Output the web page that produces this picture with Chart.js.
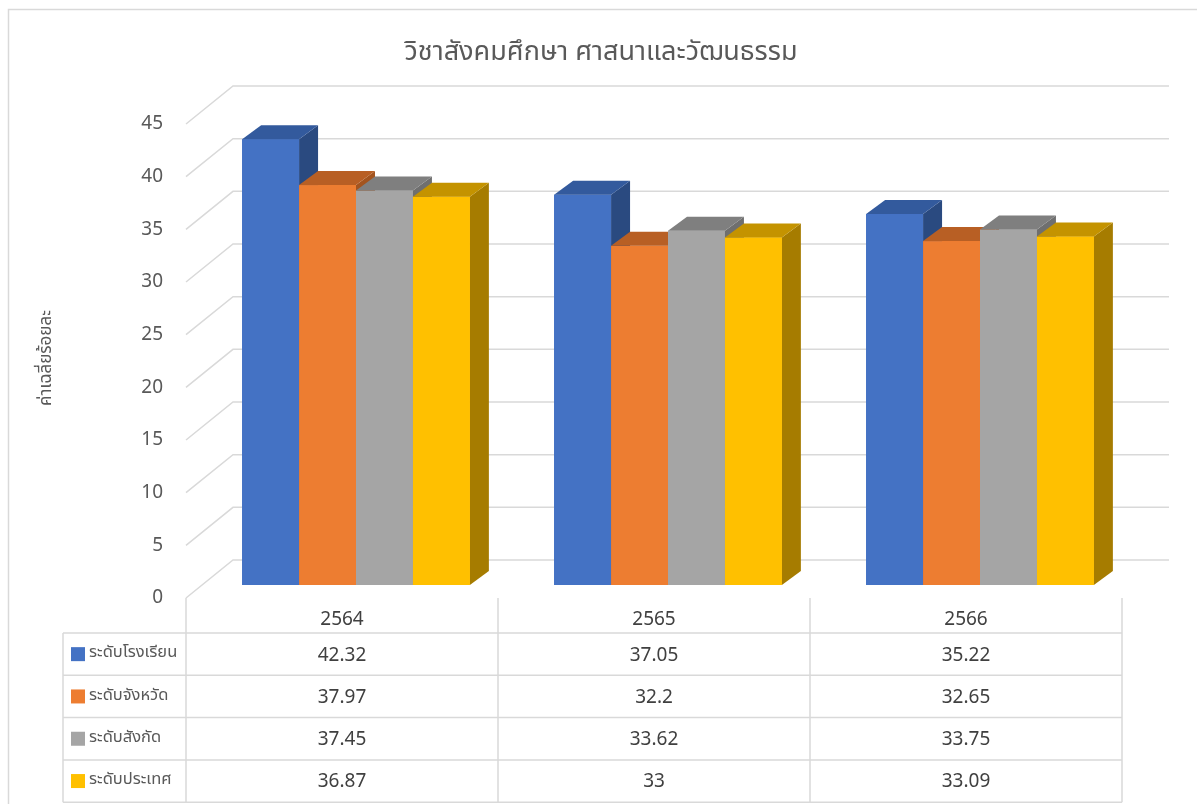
<!DOCTYPE html>
<html>
<head>
<meta charset="utf-8">
<script src="https://cdn.jsdelivr.net/npm/chart.js@4.4.1/dist/chart.umd.min.js"></script>
<style>
  html, body { margin: 0; background: #fff; }
  canvas { display: block; }
</style>
</head>
<body>
<canvas id="chart" width="1197" height="804"></canvas>
<script>
const years = ['2564', '2565', '2566'];
const seriesNames = ['ระดับโรงเรียน', 'ระดับจังหวัด', 'ระดับสังกัด', 'ระดับประเทศ'];
const schoolScores = [42.32, 37.05, 35.22];
const provinceScores = [37.97, 32.2, 32.65];
const affiliationScores = [37.45, 33.62, 33.75];
const nationScores = [36.87, 33, 33.09];
const yTicks = [0, 5, 10, 15, 20, 25, 30, 35, 40, 45];

const titleText = 'วิชาสังคมศึกษา ศาสนาและวัฒนธรรม';
const yTitleText = 'ค่าเฉลี่ยร้อยละ';

const faceColors = ['#4472C4', '#ED7D31', '#A5A5A5', '#FFC000'];
const topColors = ['#335A9D', '#B85F24', '#7F7F7F', '#C49300'];
const sideColors = ['#2A4A80', '#A3541F', '#6F6F6F', '#A67C00'];

const THAI = "'Noto Sans Thai', 'Leelawadee UI', Tahoma, 'Noto Sans', sans-serif";
const NUM = "'Noto Sans', 'Open Sans', sans-serif";

// oblique offsets relative to the plane the bar fronts sit on
const DEPTH = { dx: 19, dy: -14 };
const BACK = { dx: 33, dy: -25 };
const FRONT = { dx: -14, dy: 13 };
const GRID = '#D9D9D9';

const allSeries = [schoolScores, provinceScores, affiliationScores, nationScores];

const excel3d = {
  id: 'excel3d',
  beforeDraw(chart) {
    const ctx = chart.ctx;
    ctx.save();
    ctx.strokeStyle = GRID;
    ctx.lineWidth = 1.5;
    ctx.strokeRect(8.5, 9.5, 1300, 1000);

    ctx.fillStyle = '#595959';
    ctx.font = '27px ' + THAI;
    ctx.textAlign = 'center';
    ctx.textBaseline = 'middle';
    ctx.fillText(titleText, 601, 55);

    ctx.translate(48, 358);
    ctx.rotate(-Math.PI / 2);
    ctx.font = '17px ' + THAI;
    ctx.fillText(yTitleText, 0, 0);
    ctx.restore();
  },
  beforeDatasetsDraw(chart) {
    const ctx = chart.ctx;
    const xs = chart.scales.x;
    const ys = chart.scales.y;
    ctx.save();
    ctx.strokeStyle = GRID;
    ctx.lineWidth = 1.5;
    yTicks.forEach(v => {
      const y = ys.getPixelForValue(v);
      ctx.beginPath();
      ctx.moveTo(xs.left + FRONT.dx, y + FRONT.dy);
      ctx.lineTo(xs.left + BACK.dx, y + BACK.dy);
      ctx.lineTo(xs.right + BACK.dx, y + BACK.dy);
      ctx.stroke();
    });
    ctx.fillStyle = '#595959';
    ctx.font = '19px ' + NUM;
    ctx.textAlign = 'right';
    ctx.textBaseline = 'middle';
    yTicks.forEach(v => {
      const y = ys.getPixelForValue(v);
      ctx.fillText(String(v), 163, y + FRONT.dy);
    });

    // data table under the plot
    const floorY = ys.getPixelForValue(0) + FRONT.dy;
    const step = (xs.right - xs.left) / years.length;
    const cols = [];
    for (let i = 0; i <= years.length; i++) cols.push(xs.left + FRONT.dx + i * step);
    const headTop = floorY;
    const rowTop = 633;
    const rowH = 42.3;
    const tableLeft = 63;
    const tableBottom = rowTop + rowH * seriesNames.length;

    ctx.beginPath();
    cols.forEach(cx => {
      ctx.moveTo(cx, headTop);
      ctx.lineTo(cx, tableBottom);
    });
    ctx.moveTo(tableLeft, rowTop);
    ctx.lineTo(tableLeft, tableBottom);
    for (let r = 0; r <= seriesNames.length; r++) {
      ctx.moveTo(tableLeft, rowTop + r * rowH);
      ctx.lineTo(cols[cols.length - 1], rowTop + r * rowH);
    }
    ctx.stroke();

    ctx.textAlign = 'center';
    ctx.fillStyle = '#404040';
    ctx.font = '19px ' + NUM;
    years.forEach((yr, i) => {
      ctx.fillText(yr, (cols[i] + cols[i + 1]) / 2, (headTop + rowTop) / 2 + 4);
    });
    seriesNames.forEach((name, r) => {
      const cy = rowTop + r * rowH + rowH / 2;
      ctx.fillStyle = faceColors[r];
      ctx.fillRect(71, cy - 7, 14, 14);
      ctx.fillStyle = '#595959';
      ctx.textAlign = 'left';
      ctx.font = '16.5px ' + THAI;
      ctx.fillText(name, 89, cy);
      ctx.fillStyle = '#404040';
      ctx.textAlign = 'center';
      ctx.font = '19px ' + NUM;
      allSeries[r].forEach((v, i) => {
        ctx.fillText(String(v), (cols[i] + cols[i + 1]) / 2, cy + 1);
      });
    });
    ctx.restore();
  },
  afterDatasetsDraw(chart) {
    const ctx = chart.ctx;
    ctx.save();
    for (let i = 0; i < years.length; i++) {
      chart.data.datasets.forEach((ds, d) => {
        const bar = chart.getDatasetMeta(d).data[i];
        const { x, y, base, width } = bar.getProps(['x', 'y', 'base', 'width'], true);
        const l = x - width / 2, r = x + width / 2;
        // side
        ctx.fillStyle = sideColors[d];
        ctx.beginPath();
        ctx.moveTo(r, y);
        ctx.lineTo(r + DEPTH.dx, y + DEPTH.dy);
        ctx.lineTo(r + DEPTH.dx, base + DEPTH.dy);
        ctx.lineTo(r, base);
        ctx.closePath();
        ctx.fill();
        // front
        ctx.fillStyle = faceColors[d];
        ctx.fillRect(l, y, width, base - y);
        // top
        ctx.fillStyle = topColors[d];
        ctx.beginPath();
        ctx.moveTo(l, y);
        ctx.lineTo(r, y);
        ctx.lineTo(r + DEPTH.dx, y + DEPTH.dy);
        ctx.lineTo(l + DEPTH.dx, y + DEPTH.dy);
        ctx.closePath();
        ctx.fill();
      });
    }
    ctx.restore();
  }
};

new Chart(document.getElementById('chart'), {
  type: 'bar',
  plugins: [excel3d],
  data: {
    labels: years,
    datasets: seriesNames.map((name, d) => ({
      label: name,
      data: allSeries[d],
      backgroundColor: faceColors[d],
      categoryPercentage: 0.73,
      barPercentage: 1,
    })),
  },
  options: {
    responsive: false,
    animation: false,
    layout: {
      padding: { left: 200, right: 61, top: 111, bottom: 219 },
    },
    scales: {
      x: { display: false },
      y: { display: false, min: 0, max: 45 },
    },
    plugins: {
      legend: { display: false },
      tooltip: { enabled: false },
    },
  },
});
</script>
</body>
</html>
